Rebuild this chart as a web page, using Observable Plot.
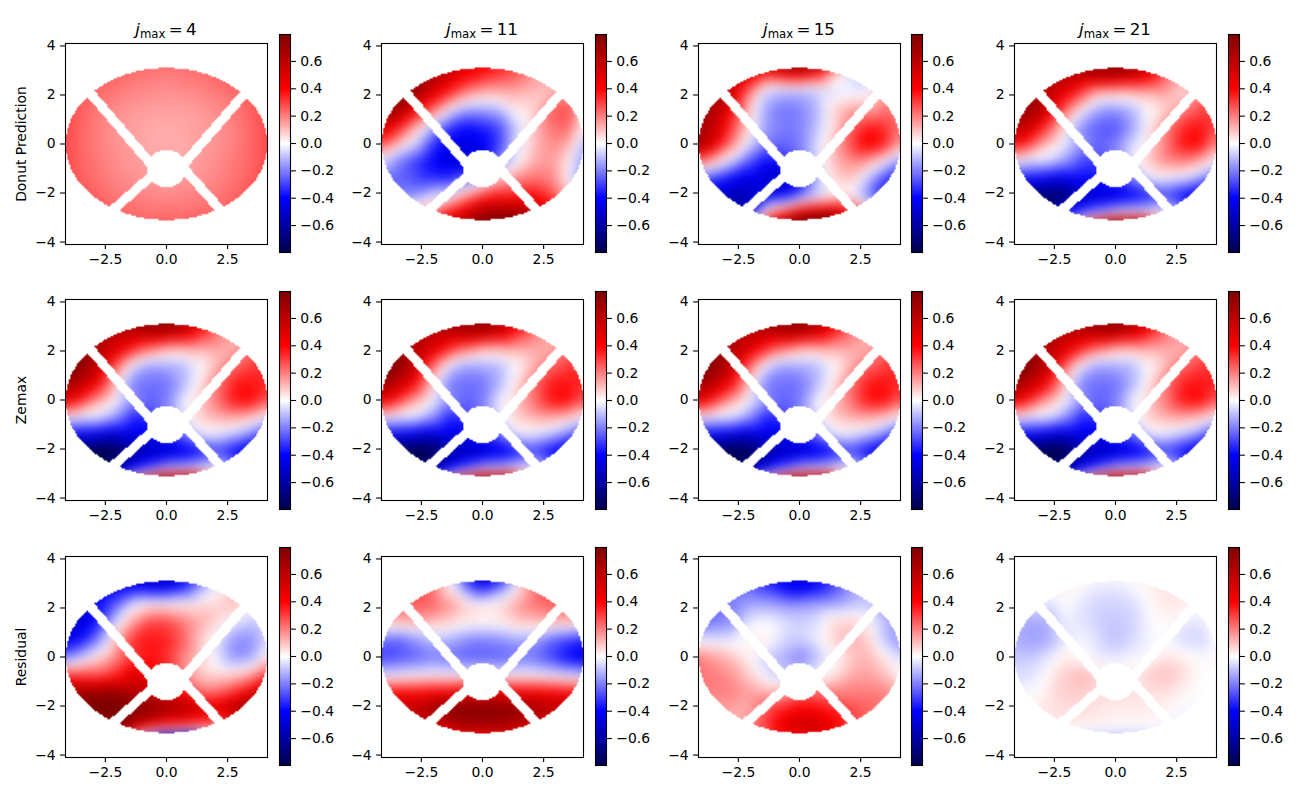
<!DOCTYPE html>
<html>
<head>
<meta charset="utf-8">
<script src="https://cdn.jsdelivr.net/npm/d3@7"></script>
<script src="https://cdn.jsdelivr.net/npm/@observablehq/plot@0.6"></script>
<style>
html,body{margin:0;padding:0;background:#fff}
#fig{position:relative;width:1300px;height:800px;overflow:hidden;font-family:"DejaVu Sans";color:#000}
#fig svg{position:absolute;background:transparent}
.title{position:absolute;font-size:16.7px;white-space:nowrap;transform:translateX(-50%);line-height:20px}
.title sub{font-size:11.7px;vertical-align:-3px;line-height:0}
.ylab{position:absolute;font-size:13.9px;white-space:nowrap;transform:translate(-50%,-50%) rotate(-90deg);line-height:16px}
</style>
</head>
<body>
<div id="fig"></div>
<script>
// sample positions (pupil coordinates)
const gridX = [-4.2,-3.5,-2.8,-2.1,-1.4,-0.7,0,0.7,1.4,2.1,2.8,3.5,4.2];
const gridY = [3.5,2.8,2.1,1.4,0.7,0,-0.7,-1.4,-2.1,-2.8,-3.5];

const predJ4 = [
[.33,.31,.29,.27,.25,.24,.24,.24,.25,.27,.29,.31,.33],
[.31,.28,.26,.24,.22,.21,.20,.21,.22,.24,.26,.28,.31],
[.30,.26,.23,.21,.19,.18,.17,.18,.19,.21,.23,.26,.30],
[.29,.25,.21,.18,.16,.15,.15,.15,.16,.18,.21,.25,.29],
[.29,.24,.20,.17,.15,.14,.13,.14,.15,.17,.20,.24,.29],
[.29,.24,.20,.17,.15,.13,.13,.13,.15,.17,.20,.24,.29],
[.29,.24,.21,.18,.16,.14,.14,.14,.16,.18,.21,.24,.29],
[.30,.25,.22,.19,.17,.16,.15,.16,.17,.19,.22,.25,.30],
[.31,.27,.24,.21,.20,.19,.18,.19,.20,.21,.24,.27,.31],
[.33,.29,.27,.24,.23,.22,.22,.22,.23,.24,.27,.29,.33],
[.35,.32,.30,.28,.27,.26,.26,.26,.27,.28,.30,.32,.35]];
const predJ11 = [
[.9,.85,.8,.7,.6,.5,.45,.38,.3,.2,.1,.1,.1],
[.9,.85,.75,.68,.55,.42,.36,.3,.25,.15,.1,.15,.1],
[.85,.8,.72,.5,.35,.2,.12,.12,.12,.1,.1,.2,.1],
[.7,.7,.45,.25,.02,-.15,-.15,-.12,.04,.06,.25,.3,.05],
[.55,.4,.15,-.08,-.3,-.38,-.35,-.28,-.08,.1,.22,.25,-.02],
[.3,.12,-.05,-.3,-.42,-.48,-.42,-.3,-.05,.1,.18,.13,-.15],
[-.03,-.2,-.3,-.4,-.48,-.5,-.4,-.2,-.02,.12,.16,.03,-.2],
[-.25,-.25,-.28,-.33,-.35,-.25,-.15,.1,.18,.22,.2,.01,-.25],
[-.2,-.2,-.18,-.06,-.04,.15,.3,.35,.35,.4,.3,.1,-.1],
[0,.05,.12,.2,.38,.52,.68,.72,.68,.6,.45,.3,.2],
[.1,.2,.3,.4,.55,.7,.85,.9,.9,.75,.55,.4,.3]];
const predJ15 = [
[.7,.7,.65,.55,.7,.9,1,.85,.5,.1,0,0,0],
[.7,.65,.6,.45,.3,.38,.42,.33,.05,-.08,-.1,0,.1],
[.75,.7,.55,.22,-.08,-.12,-.13,-.1,-.07,-.02,-.03,.2,.2],
[.75,.65,.42,.1,-.15,-.22,-.2,-.12,.08,.15,.15,.22,.2],
[.7,.58,.32,.07,-.15,-.2,-.2,-.1,.05,.25,.36,.33,.22],
[.7,.5,.2,-.03,-.2,-.25,-.2,-.05,.1,.28,.44,.36,.12],
[.25,.1,-.05,-.25,-.4,-.35,-.25,-.05,.1,.18,.15,0,-.2],
[-.25,-.3,-.4,-.45,-.5,-.55,-.45,-.1,.06,.1,-.1,-.3,-.35],
[-.5,-.5,-.55,-.58,-.45,-.42,-.25,-.1,.02,0,-.2,-.4,-.4],
[-.6,-.6,-.6,-.45,.08,.3,.52,.58,.58,.4,.2,0,0],
[-.5,-.5,-.4,-.1,.5,.9,1.1,1.2,.9,.6,.3,.1,.1]];
const predJ21 = [
[.7,.75,.75,.75,.8,.85,.85,.8,.6,.3,.2,.2,.2],
[.7,.7,.7,.6,.6,.62,.62,.55,.42,.2,.15,.2,.2],
[.75,.75,.6,.45,.3,.12,.1,.1,.12,.15,.05,.2,.2],
[.75,.7,.55,.25,.02,-.15,-.18,-.12,0,.08,.2,.3,.3],
[.65,.55,.3,.05,-.18,-.25,-.27,-.15,.03,.2,.35,.38,.3],
[.42,.3,.1,-.03,-.15,-.25,-.2,-.05,.05,.22,.38,.4,.15],
[-.02,-.05,-.05,-.15,-.3,-.3,-.2,-.02,.1,.18,.2,.12,-.02],
[-.35,-.38,-.42,-.45,-.4,-.38,-.3,-.2,-.03,-.02,-.05,-.15,-.3],
[-.7,-.7,-.72,-.72,-.55,-.5,-.48,-.42,-.35,-.3,-.4,-.5,-.5],
[-.75,-.75,-.7,-.4,-.3,-.18,-.08,-.06,-.03,0,-.2,-.3,-.3],
[-.5,-.5,-.4,0,.4,.9,1.3,1.3,.9,.4,0,0,0]];
const zemax = [
[.8,.8,.8,.8,.8,.8,.8,.75,.55,.25,.15,.2,.2],
[.75,.75,.7,.6,.6,.65,.65,.55,.35,.2,.12,.2,.3],
[.8,.8,.62,.5,.35,.22,.12,.12,.12,.14,.12,.25,.3],
[.85,.75,.6,.25,-.03,-.15,-.14,-.12,0,.12,.25,.3,.35],
[.75,.6,.42,.1,-.2,-.22,-.22,-.12,.04,.22,.36,.38,.35],
[.5,.35,.15,0,-.15,-.25,-.2,-.02,.08,.22,.38,.4,.25],
[0,-.03,-.03,-.15,-.35,-.32,-.22,-.03,.08,.12,.14,.1,-.03],
[-.4,-.42,-.45,-.5,-.45,-.42,-.35,-.22,-.03,-.03,-.1,-.2,-.35],
[-.7,-.75,-.8,-.8,-.62,-.55,-.52,-.47,-.38,-.3,-.4,-.5,-.5],
[-.8,-.8,-.75,-.6,-.45,-.26,-.12,-.1,-.05,0,-.2,-.3,-.3],
[-.6,-.6,-.5,0,.4,.9,1.3,1.3,.9,.4,0,0,0]];
const resJ4 = [
[-.55,-.55,-.5,-.5,-.5,-.55,-.55,-.5,-.3,0,.1,.1,.1],
[-.45,-.45,-.42,-.38,-.38,-.42,-.42,-.33,-.12,.02,.12,.1,0],
[-.5,-.5,-.38,-.25,-.02,.05,.05,.05,.07,.07,.1,0,0],
[-.55,-.48,-.35,-.05,.15,.3,.3,.22,.13,.05,-.05,-.1,-.05],
[-.45,-.38,-.2,.1,.32,.37,.35,.25,.08,-.05,-.18,-.18,-.05],
[-.22,-.1,.05,.18,.3,.38,.33,.18,.08,-.05,-.18,-.15,.05],
[.3,.27,.24,.33,.5,.45,.35,.18,.08,.06,.07,.13,.32],
[.7,.65,.67,.7,.62,.58,.5,.38,.2,.22,.32,.45,.65],
[.95,.95,1,1,.82,.75,.7,.65,.55,.5,.63,.75,.8],
[1,1,.95,.85,.65,.48,.34,.32,.25,.2,.45,.55,.55],
[.9,.9,.8,.3,-.1,-.6,-1,-1,-.6,-.1,.3,.3,.3]];
const resJ11 = [
[.3,.3,.3,.25,.02,-.45,-.6,-.5,-.05,.25,.3,.3,.3],
[.3,.3,.3,.25,.03,-.18,-.35,-.2,.03,.22,.3,.3,.3],
[.3,.25,.25,.25,.18,.08,.03,.06,.15,.22,.25,.25,.25],
[.05,.1,.12,.1,.07,.03,.02,.03,.08,.08,.1,.1,.05],
[-.22,-.25,-.18,-.1,-.12,-.18,-.2,-.18,-.14,-.15,-.25,-.3,-.35],
[-.3,-.28,-.25,-.2,-.22,-.25,-.25,-.25,-.22,-.22,-.3,-.4,-.45],
[-.08,-.05,-.03,-.02,-.03,-.03,-.02,-.03,-.02,-.03,-.05,-.08,-.12],
[.35,.38,.38,.4,.42,.45,.45,.45,.42,.42,.4,.38,.35],
[.6,.55,.6,.68,.76,.78,.78,.78,.74,.68,.62,.6,.6],
[.5,.5,.55,.55,.6,.68,.68,.68,.62,.55,.5,.5,.5],
[.2,.2,.2,.2,.25,.3,.3,.3,.25,.2,.2,.2,.2]];
const resJ15 = [
[-.2,-.2,-.2,-.25,-.35,-.4,-.4,-.4,-.3,-.15,-.1,-.1,-.1],
[-.2,-.2,-.2,-.22,-.3,-.38,-.45,-.38,-.28,-.15,-.08,-.1,-.1],
[-.25,-.25,-.2,-.13,-.12,-.15,-.15,-.13,-.12,-.1,-.08,-.15,-.15],
[-.25,-.2,-.18,-.03,0,-.04,-.07,-.05,.07,.08,.02,-.1,-.18],
[-.03,-.05,-.04,.02,.03,-.06,-.08,-.03,.07,.12,.08,-.1,-.18],
[.2,.15,.1,.02,-.08,-.12,-.2,-.1,0,.08,.12,.03,-.08],
[.22,.2,.17,.08,-.04,-.1,-.1,-.03,.02,.12,.15,.1,-.02],
[.22,.2,.2,.15,.1,.1,.2,.22,.18,.2,.2,.2,.1],
[.15,.15,.15,.12,.25,.35,.42,.4,.35,.28,.25,.2,.15],
[.1,.1,.1,.2,.3,.48,.55,.55,.45,.3,.2,.2,.2],
[.1,.1,.1,.15,.25,.35,.4,.4,.3,.2,.1,.1,.1]];
const resJ21 = [
[.03,.03,.03,.03,.03,.03,.03,.03,.03,.03,.03,.03,.03],
[.03,.03,.03,.03,-.01,-.04,-.04,-.02,.02,.04,.04,.03,.03],
[-.05,-.05,-.06,0,-.04,-.07,-.07,-.06,0,.04,.03,.02,.02],
[-.12,-.14,-.13,-.02,-.04,-.07,-.09,-.07,-.01,.01,-.04,-.04,.01],
[-.12,-.15,-.14,-.04,-.01,-.05,-.1,-.06,-.01,-.01,-.06,-.07,.01],
[-.08,-.09,-.04,.03,0,-.03,-.04,-.02,0,.04,.02,-.01,.02],
[-.06,-.05,0,.08,.12,.06,.02,.03,.08,.1,.05,0,0],
[-.03,-.01,.03,.08,.08,.06,.05,.05,.05,.05,.02,0,0],
[.02,.03,.04,.05,.05,.04,.03,.03,.03,.02,-.01,-.01,0],
[.03,.03,.03,.03,.02,.02,.01,.01,.01,-.03,-.03,-.02,0],
[0,0,0,-.02,-.08,-.12,-.14,-.14,-.1,-.05,0,0,0]];

const panels = [
  [predJ4,predJ11,predJ15,predJ21],
  [zemax,zemax,zemax,zemax],
  [resJ4,resJ11,resJ15,resJ21]
];
const jmax = [4,11,15,21];
const rowLabels = ["Donut Prediction","Zemax","Residual"];
const xTicks = [-2.5,0,2.5];
const yTicks = [-4,-2,0,2,4];
const barTicks = [-0.6,-0.4,-0.2,0,0.2,0.4,0.6];

// seismic colour map
const colorStops = [-0.797,-0.3985,0,0.3985,0.797];
const colorRange = ["#00004d","#0000ff","#ffffff","#ff0000","#800000"];

// aperture: ellipse semi-axes, central hole, four vane end points
const outer = [4.13,3.1];
const hole = [0,-1.0,0.8,0.76];
const vanes = [[-0.73,-0.71,-2.97,1.9],[0.82,-0.69,3.06,1.91],[-0.71,-1.39,-2.07,-2.58],[0.83,-1.15,2.11,-2.58]];
const vaneHalfWidth = 0.19;

function inAperture(x,y){
  if ((x/outer[0])**2+(y/outer[1])**2>1) return false;
  if (((x-hole[0])/hole[2])**2+((y-hole[1])/hole[3])**2<1) return false;
  for (const [a,b,c,d] of vanes){
    const dx=c-a,dy=d-b,L=Math.hypot(dx,dy);
    const t=((x-a)*dx+(y-b)*dy)/(L*L);
    const n=Math.abs((x-a)*dy-(y-b)*dx)/L;
    if (t>-0.1&&n<vaneHalfWidth) return false;
  }
  return true;
}

const xDom=[-4.13,4.13], yDom=[-4.1,4.1];
const colLeft=[65,381,698,1014], rowTop=[43,299,556];
const frameW=202, frameH=201;
const barLeft=[279,595,911,1228], barTop=[34,291,547], barW=11, barH=218;
const fmt1=d3.format(".1f"), fmt0=d3.format("d");
const color={type:"linear",domain:colorStops,range:colorRange,interpolate:"rgb",clamp:true};
const fontStyle={fontFamily:"DejaVu Sans",fontSize:"13.9px",background:"transparent",color:"#000"};
const fig=document.getElementById("fig");

function place(node,left,top){
  node.style.left=left+"px";node.style.top=top+"px";fig.appendChild(node);
}

panels.forEach((row,r)=>row.forEach((grid,c)=>{
  const table=[];
  grid.forEach((vals,j)=>vals.forEach((v,i)=>table.push({x:gridX[i],y:gridY[j],v})));
  const m={l:50,r:12,t:12,b:30};
  const p=Plot.plot({
    width:frameW+m.l+m.r,height:frameH+m.t+m.b,
    marginLeft:m.l,marginRight:m.r,marginTop:m.t,marginBottom:m.b,
    style:fontStyle,
    x:{domain:xDom,label:null},y:{domain:yDom,label:null},color,
    marks:[
      Plot.raster(table,{x:"x",y:"y",fill:"v",x1:xDom[0],x2:xDom[1],y1:yDom[0],y2:yDom[1],width:126,height:126,interpolate:"barycentric",blur:3}),
      Plot.raster({x1:xDom[0],x2:xDom[1],y1:yDom[0],y2:yDom[1],width:126,height:126,fill:"white",fillOpacity:(x,y)=>inAperture(x,y)?0:1}),
      Plot.frame({stroke:"black",strokeWidth:1.1}),
      Plot.axisX({ticks:xTicks,tickFormat:fmt1,tickSize:4.9,tickPadding:4.9,label:null,stroke:"black",fill:"black",strokeWidth:1.1}),
      Plot.axisY({ticks:yTicks,tickFormat:fmt0,tickSize:4.9,tickPadding:4.9,label:null,stroke:"black",fill:"black",strokeWidth:1.1})
    ]
  });
  place(p,colLeft[c]-m.l,rowTop[r]-m.t);

  const mb={l:1,r:46,t:4,b:4};
  const bar=Plot.plot({
    width:barW+mb.l+mb.r,height:barH+mb.t+mb.b,
    marginLeft:mb.l,marginRight:mb.r,marginTop:mb.t,marginBottom:mb.b,
    style:fontStyle,
    x:{domain:[0,1],axis:null},y:{domain:[-0.797,0.797],label:null},color,
    marks:[
      Plot.raster({x1:0,x2:1,y1:-0.797,y2:0.797,width:1,height:256,fill:(x,y)=>y}),
      Plot.frame({stroke:"black",strokeWidth:1.1}),
      Plot.axisY({anchor:"right",ticks:barTicks,tickFormat:fmt1,tickSize:4.9,tickPadding:4.9,label:null,stroke:"black",fill:"black",strokeWidth:1.1})
    ]
  });
  place(bar,barLeft[c]-mb.l,barTop[r]-mb.t);
}));

jmax.forEach((j,c)=>{
  const t=document.createElement("div");
  t.className="title";
  t.style.left=(colLeft[c]+frameW/2)+"px";
  t.style.top="19px";
  t.innerHTML=`<i>j</i><sub>max</sub>&#8201;=&#8201;${j}`;
  fig.appendChild(t);
});
rowLabels.forEach((s,r)=>{
  const t=document.createElement("div");
  t.className="ylab";
  t.style.left="21px";
  t.style.top=(rowTop[r]+frameH/2)+"px";
  t.textContent=s;
  fig.appendChild(t);
});
</script>
</body>
</html>
